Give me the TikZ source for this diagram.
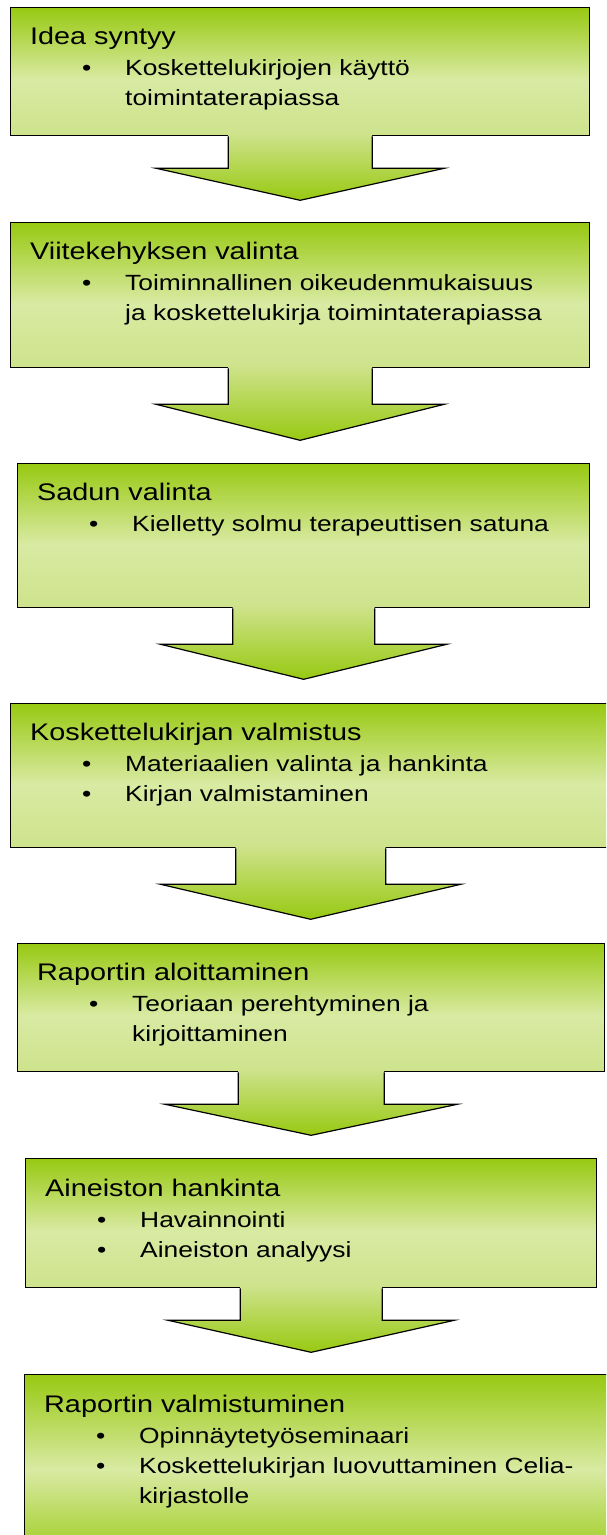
\documentclass[tikz,border=0pt]{standalone}
\usepackage{fontspec}
\setmainfont{Liberation Sans}[FakeStretch=1.2]
\usetikzlibrary{calc}

\definecolor{boxtop}{RGB}{152,201,18}
\definecolor{boxlight}{RGB}{217,234,163}
\definecolor{boxlow}{RGB}{206,227,140}
\pgfdeclareverticalshading{boxshade}{100bp}{color(0bp)=(boxlow); color(25bp)=(boxlow); color(47bp)=(boxlight); color(75bp)=(boxtop); color(100bp)=(boxtop)}
\pgfdeclareverticalshading{lastshade}{100bp}{color(0bp)=(boxtop); color(25bp)=(boxtop); color(50bp)=(boxlight); color(75bp)=(boxtop); color(100bp)=(boxtop)}

\tikzset{
  stepbox/.style={draw=black, line width=1.3pt, shading=boxshade, anchor=north west, inner sep=0pt},
  heading/.style={anchor=base west, inner sep=0pt, font=\fontsize{24}{29}\selectfont},
  bulletdot/.style={anchor=base west, inner sep=0pt, font=\fontsize{22}{30}\selectfont},
  itemtext/.style={anchor=base west, inner sep=0pt, font=\fontsize{22}{30}\selectfont},
  arrowfill/.style={top color=boxlow, bottom color=boxtop},
  arrowline/.style={draw=black, line width=1.2pt, line join=miter},
}

\begin{document}
\begin{tikzpicture}[x=1pt,y=-1pt]
\useasboundingbox (0,0) rectangle (606,1535);
\clip (0,0) rectangle (606,1535);

% boxes
\node[stepbox, minimum width=579, minimum height=128] (b1) at (10,7) {};
\node[stepbox, minimum width=579, minimum height=145] (b2) at (10,222) {};
\node[stepbox, minimum width=572, minimum height=144] (b3) at (17,463) {};
\node[stepbox, minimum width=600, minimum height=144] (b4) at (10,703) {};
\node[stepbox, minimum width=587, minimum height=128] (b5) at (17,943) {};
\node[stepbox, minimum width=571, minimum height=129] (b6) at (25,1158) {};
\node[stepbox, shading=lastshade, minimum width=586, minimum height=190] (b7) at (24,1374) {};

% arrows
\path[arrowfill] ($(b1.south)+(-72,-3)$) -- ++(0,35) -- ++(-72,0) -- ++(144,32) -- ++(144,-32) -- ++(-72,0) -- ++(0,-35) -- cycle;
\draw[arrowline] ($(b1.south)+(-72,0)$) -- ++(0,32) -- ++(-72,0) -- ++(144,32) coordinate (a1) -- ++(144,-32) -- ++(-72,0) -- ++(0,-32);
\path[arrowfill] ($(b2.south)+(-72,-3)$) -- ++(0,39) -- ++(-72,0) -- ++(144,36) -- ++(144,-36) -- ++(-72,0) -- ++(0,-39) -- cycle;
\draw[arrowline] ($(b2.south)+(-72,0)$) -- ++(0,36) -- ++(-72,0) -- ++(144,36) coordinate (a2) -- ++(144,-36) -- ++(-72,0) -- ++(0,-36);
\path[arrowfill] ($(b3.south)+(-71,-3)$) -- ++(0,39) -- ++(-72,0) -- ++(143,35) -- ++(143,-35) -- ++(-72,0) -- ++(0,-39) -- cycle;
\draw[arrowline] ($(b3.south)+(-71,0)$) -- ++(0,36) -- ++(-72,0) -- ++(143,35) coordinate (a3) -- ++(143,-35) -- ++(-72,0) -- ++(0,-36);
\path[arrowfill] ($(b4.south)+(-75,-3)$) -- ++(0,39) -- ++(-75,0) -- ++(150,35) -- ++(150,-35) -- ++(-75,0) -- ++(0,-39) -- cycle;
\draw[arrowline] ($(b4.south)+(-75,0)$) -- ++(0,36) -- ++(-75,0) -- ++(150,35) coordinate (a4) -- ++(150,-35) -- ++(-75,0) -- ++(0,-36);
\path[arrowfill] ($(b5.south)+(-73,-3)$) -- ++(0,35) -- ++(-73,0) -- ++(146,31) -- ++(146,-31) -- ++(-73,0) -- ++(0,-35) -- cycle;
\draw[arrowline] ($(b5.south)+(-73,0)$) -- ++(0,32) -- ++(-73,0) -- ++(146,31) coordinate (a5) -- ++(146,-31) -- ++(-73,0) -- ++(0,-32);
\path[arrowfill] ($(b6.south)+(-71,-3)$) -- ++(0,35) -- ++(-72,0) -- ++(143,32) -- ++(143,-32) -- ++(-72,0) -- ++(0,-35) -- cycle;
\draw[arrowline] ($(b6.south)+(-71,0)$) -- ++(0,32) -- ++(-72,0) -- ++(143,32) coordinate (a6) -- ++(143,-32) -- ++(-72,0) -- ++(0,-32);

% texts
\node[heading] (h1) at ($(b1.north west)+(20,37)$) {Idea syntyy};
\node[bulletdot] (d1) at ($(b1.north west)+(72,68)$) {•};
\node[itemtext] (i1) at ($(b1.north west)+(115,68)$) {Koskettelukirjojen käyttö};
\node[itemtext] (i1b) at ($(b1.north west)+(115,98)$) {toimintaterapiassa};

\node[heading] (h2) at ($(b2.north west)+(20,37)$) {Viitekehyksen valinta};
\node[bulletdot] (d2) at ($(b2.north west)+(72,68)$) {•};
\node[itemtext] (i2) at ($(b2.north west)+(115,68)$) {Toiminnallinen oikeudenmukaisuus};
\node[itemtext] (i2b) at ($(b2.north west)+(115,98)$) {ja koskettelukirja toimintaterapiassa};

\node[heading] (h3) at ($(b3.north west)+(20,37)$) {Sadun valinta};
\node[bulletdot] (d3) at ($(b3.north west)+(72,68)$) {•};
\node[itemtext] (i3) at ($(b3.north west)+(115,68)$) {Kielletty solmu terapeuttisen satuna};

\node[heading] (h4) at ($(b4.north west)+(20,37)$) {Koskettelukirjan valmistus};
\node[bulletdot] (d4) at ($(b4.north west)+(72,68)$) {•};
\node[itemtext] (i4) at ($(b4.north west)+(115,68)$) {Materiaalien valinta ja hankinta};
\node[bulletdot] (d4b) at ($(b4.north west)+(72,98)$) {•};
\node[itemtext] (i4b) at ($(b4.north west)+(115,98)$) {Kirjan valmistaminen};

\node[heading] (h5) at ($(b5.north west)+(20,37)$) {Raportin aloittaminen};
\node[bulletdot] (d5) at ($(b5.north west)+(72,68)$) {•};
\node[itemtext] (i5) at ($(b5.north west)+(115,68)$) {Teoriaan perehtyminen ja};
\node[itemtext] (i5b) at ($(b5.north west)+(115,98)$) {kirjoittaminen};

\node[heading] (h6) at ($(b6.north west)+(20,38)$) {Aineiston hankinta};
\node[bulletdot] (d6) at ($(b6.north west)+(72,69)$) {•};
\node[itemtext] (i6) at ($(b6.north west)+(115,69)$) {Havainnointi};
\node[bulletdot] (d6b) at ($(b6.north west)+(72,99)$) {•};
\node[itemtext] (i6b) at ($(b6.north west)+(115,99)$) {Aineiston analyysi};

\node[heading] (h7) at ($(b7.north west)+(20,38)$) {Raportin valmistuminen};
\node[bulletdot] (d7) at ($(b7.north west)+(72,69)$) {•};
\node[itemtext] (i7) at ($(b7.north west)+(115,69)$) {Opinnäytetyöseminaari};
\node[bulletdot] (d7b) at ($(b7.north west)+(72,99)$) {•};
\node[itemtext] (i7b) at ($(b7.north west)+(115,99)$) {Koskettelukirjan luovuttaminen Celia-};
\node[itemtext] (i7c) at ($(b7.north west)+(115,129)$) {kirjastolle};
\end{tikzpicture}
\end{document}
